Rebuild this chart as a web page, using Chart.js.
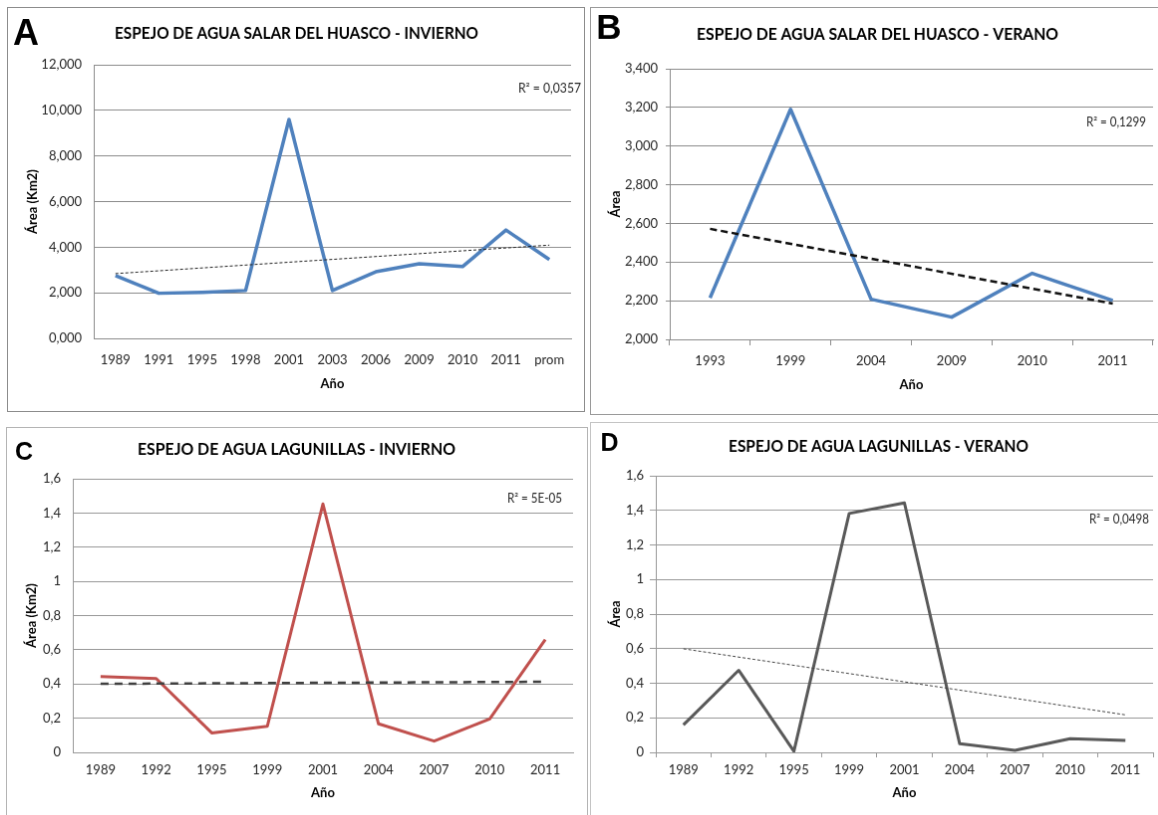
<!DOCTYPE html>
<html>
<head>
<meta charset="utf-8">
<script src="https://cdn.jsdelivr.net/npm/chart.js@4.4.0/dist/chart.umd.min.js"></script>
<style>
  body { margin: 0; background: #fff; width: 1158px; height: 815px; overflow: hidden; position: relative; }
  canvas.panel { position: absolute; border: 1px solid #999; background: #fff; }
</style>
</head>
<body>
<canvas id="chartA" class="panel" width="578" height="405" style="left:7px;top:7px;border-color:#8c8c8c"></canvas>
<canvas id="chartB" class="panel" width="570" height="408" style="left:590px;top:7px;border-color:#9a9a9a"></canvas>
<canvas id="chartC" class="panel" width="582" height="400" style="left:6px;top:427px;border-color:#b4b4b4"></canvas>
<canvas id="chartD" class="panel" width="570" height="400" style="left:590px;top:422px;border-color:#c4c4c4"></canvas>
<script>
// Salar del Huasco, winter
const yearsA = ['1989', '1991', '1995', '1998', '2001', '2003', '2006', '2009', '2010', '2011', 'prom'];
const areaA = [2.75, 1.98, 2.02, 2.10, 9.60, 2.10, 2.92, 3.27, 3.15, 4.75, 3.46];
const trendA = [2.84, 4.09];

// Salar del Huasco, summer
const yearsB = ['1993', '1999', '2004', '2009', '2010', '2011'];
const areaB = [2.215, 3.19, 2.208, 2.115, 2.342, 2.201];
const trendB = [2.572, 2.185];

// Lagunillas, winter
const yearsC = ['1989', '1992', '1995', '1999', '2001', '2004', '2007', '2010', '2011'];
const areaC = [0.444, 0.432, 0.114, 0.153, 1.453, 0.167, 0.066, 0.196, 0.659];
const trendC = [0.401, 0.413];

// Lagunillas, summer
const yearsD = ['1989', '1992', '1995', '1999', '2001', '2004', '2007', '2010', '2011'];
const areaD = [0.159, 0.475, 0.006, 1.382, 1.443, 0.050, 0.011, 0.079, 0.069];
const trendD = [0.599, 0.217];

const r2Labels = ['R² = 0,0357', 'R² = 0,1299', 'R² = 5E-05', 'R² = 0,0498'];

Chart.defaults.font.family = 'Lato';
Chart.defaults.color = '#262626';

const fmt3 = v => v.toFixed(3).replace('.', ',');
const fmt1 = v => String(Math.round(v * 10) / 10).replace('.', ',');

// letter, title and R² text for each panel
const panelText = {
  id: 'panelText',
  afterDraw(chart, args, o) {
    const ctx = chart.ctx;
    ctx.save();
    ctx.textBaseline = 'middle';
    ctx.textAlign = 'center';
    ctx.fillStyle = '#000';
    ctx.font = 'bold ' + o.letterSize + 'px "Liberation Sans"';
    ctx.fillText(o.letter, o.letterX, o.letterY);
    ctx.font = 'bold 17px Lato';
    ctx.fillText(o.title, o.titleX, o.titleY, o.titleW);
    ctx.textAlign = 'left';
    ctx.fillStyle = '#262626';
    ctx.font = '13px Lato';
    ctx.fillText(o.r2, o.r2X, o.r2Y, o.r2W);
    ctx.restore();
  }
};

function makeChart(id, p) {
  const last = p.labels[p.labels.length - 1];
  return new Chart(document.getElementById(id), {
    type: 'line',
    data: {
      labels: p.labels,
      datasets: [
        {
          data: [{ x: p.labels[0], y: p.trend[0] }, { x: last, y: p.trend[1] }],
          borderColor: p.trendColor,
          borderWidth: p.trendWidth,
          borderDash: p.trendDash,
          pointRadius: 0,
          fill: false
        },
        {
          data: p.values,
          borderColor: p.color,
          borderWidth: p.lineWidth,
          borderJoinStyle: 'round',
          pointRadius: 0,
          tension: 0,
          fill: false
        }
      ]
    },
    options: {
      responsive: false,
      animation: false,
      events: [],
      layout: { padding: { top: p.top, right: p.right, left: 0, bottom: 0 } },
      plugins: {
        legend: { display: false },
        tooltip: { enabled: false },
        panelText: p.text
      },
      scales: {
        x: {
          type: 'category',
          offset: true,
          grid: {
            display: p.xTicks,
            drawOnChartArea: false,
            drawTicks: p.xTicks,
            tickLength: p.xTickLen,
            offset: true,
            color: p.gridColor
          },
          border: { display: true, color: p.gridColor, width: 1 },
          ticks: { color: '#262626', font: { size: 13 }, padding: p.xPad, maxRotation: 0, autoSkip: false },
          title: {
            display: true, text: 'Año', color: '#000',
            font: { size: 13, weight: 'bold' },
            padding: { top: 0, bottom: p.xTitlePad }
          },
          afterFit: s => { s.height = p.xHeight; }
        },
        y: {
          min: p.min,
          max: p.max,
          grid: {
            color: p.gridColor,
            drawTicks: p.yTickLen > 0,
            tickLength: p.yTickLen
          },
          border: { display: true, color: p.gridColor, width: 1 },
          ticks: {
            stepSize: p.step,
            color: '#262626',
            font: { size: 13 },
            padding: p.yPad,
            callback: p.fmt
          },
          title: {
            display: true, text: p.yTitle, color: '#000',
            font: { size: 13, weight: 'bold' },
            padding: { top: 17, bottom: 0 }
          },
          afterFit: s => { s.width = p.left; }
        }
      }
    },
    plugins: [panelText]
  });
}

makeChart('chartA', {
  labels: yearsA, values: areaA, trend: trendA,
  color: '#4F81BD', lineWidth: 3.5,
  trendColor: '#222', trendWidth: 1, trendDash: [3, 2],
  min: 0, max: 12, step: 2, fmt: fmt3, yTitle: 'Área (Km2)',
  gridColor: '#8c8c8c',
  left: 86, right: 13, top: 57, xHeight: 73,
  xTicks: false, xTickLen: 0, xPad: 14, xTitlePad: 19, yTickLen: 0, yPad: 12,
  text: {
    letter: 'A', letterSize: 36, letterX: 18, letterY: 27,
    title: 'ESPEJO DE AGUA SALAR DEL HUASCO - INVIERNO', titleX: 289.5, titleY: 26, titleW: 365,
    r2: r2Labels[0], r2X: 512, r2Y: 81, r2W: 63
  }
});

makeChart('chartB', {
  labels: yearsB, values: areaB, trend: trendB,
  color: '#4F81BD', lineWidth: 3.5,
  trendColor: '#111', trendWidth: 2.5, trendDash: [7, 4],
  min: 2, max: 3.4, step: 0.2, fmt: fmt3, yTitle: 'Área',
  gridColor: '#8c8c8c',
  left: 79, right: 6, top: 61, xHeight: 75,
  xTicks: true, xTickLen: 6, xPad: 8, xTitlePad: 21, yTickLen: 4, yPad: 8,
  text: {
    letter: 'B', letterSize: 35, letterX: 18, letterY: 21.5,
    title: 'ESPEJO DE AGUA SALAR DEL HUASCO - VERANO', titleX: 287.5, titleY: 27, titleW: 363,
    r2: r2Labels[1], r2X: 497, r2Y: 115, r2W: 60
  }
});

makeChart('chartC', {
  labels: yearsC, values: areaC, trend: trendC,
  color: '#C0504D', lineWidth: 3,
  trendColor: '#404040', trendWidth: 2.5, trendDash: [8, 6],
  min: 0, max: 1.6, step: 0.2, fmt: fmt1, yTitle: 'Área (Km2)',
  gridColor: '#999999',
  left: 66, right: 14, top: 51, xHeight: 74,
  xTicks: false, xTickLen: 0, xPad: 10, xTitlePad: 25, yTickLen: 0, yPad: 12,
  text: {
    letter: 'C', letterSize: 25, letterX: 17, letterY: 25,
    title: 'ESPEJO DE AGUA LAGUNILLAS - INVIERNO', titleX: 290.5, titleY: 22, titleW: 319,
    r2: r2Labels[2], r2X: 502, r2Y: 71, r2W: 55
  }
});

makeChart('chartD', {
  labels: yearsD, values: areaD, trend: trendD,
  color: '#595959', lineWidth: 3,
  trendColor: '#444', trendWidth: 1, trendDash: [3, 2],
  min: 0, max: 1.6, step: 0.2, fmt: fmt1, yTitle: 'Área',
  gridColor: '#999999',
  left: 65, right: 6, top: 53, xHeight: 69,
  xTicks: true, xTickLen: 5, xPad: 5, xTitlePad: 20, yTickLen: 6, yPad: 6,
  text: {
    letter: 'D', letterSize: 25, letterX: 18.5, letterY: 21,
    title: 'ESPEJO DE AGUA LAGUNILLAS - VERANO', titleX: 288.5, titleY: 24, titleW: 301,
    r2: r2Labels[3], r2X: 500, r2Y: 97, r2W: 60
  }
});
</script>
</body>
</html>
